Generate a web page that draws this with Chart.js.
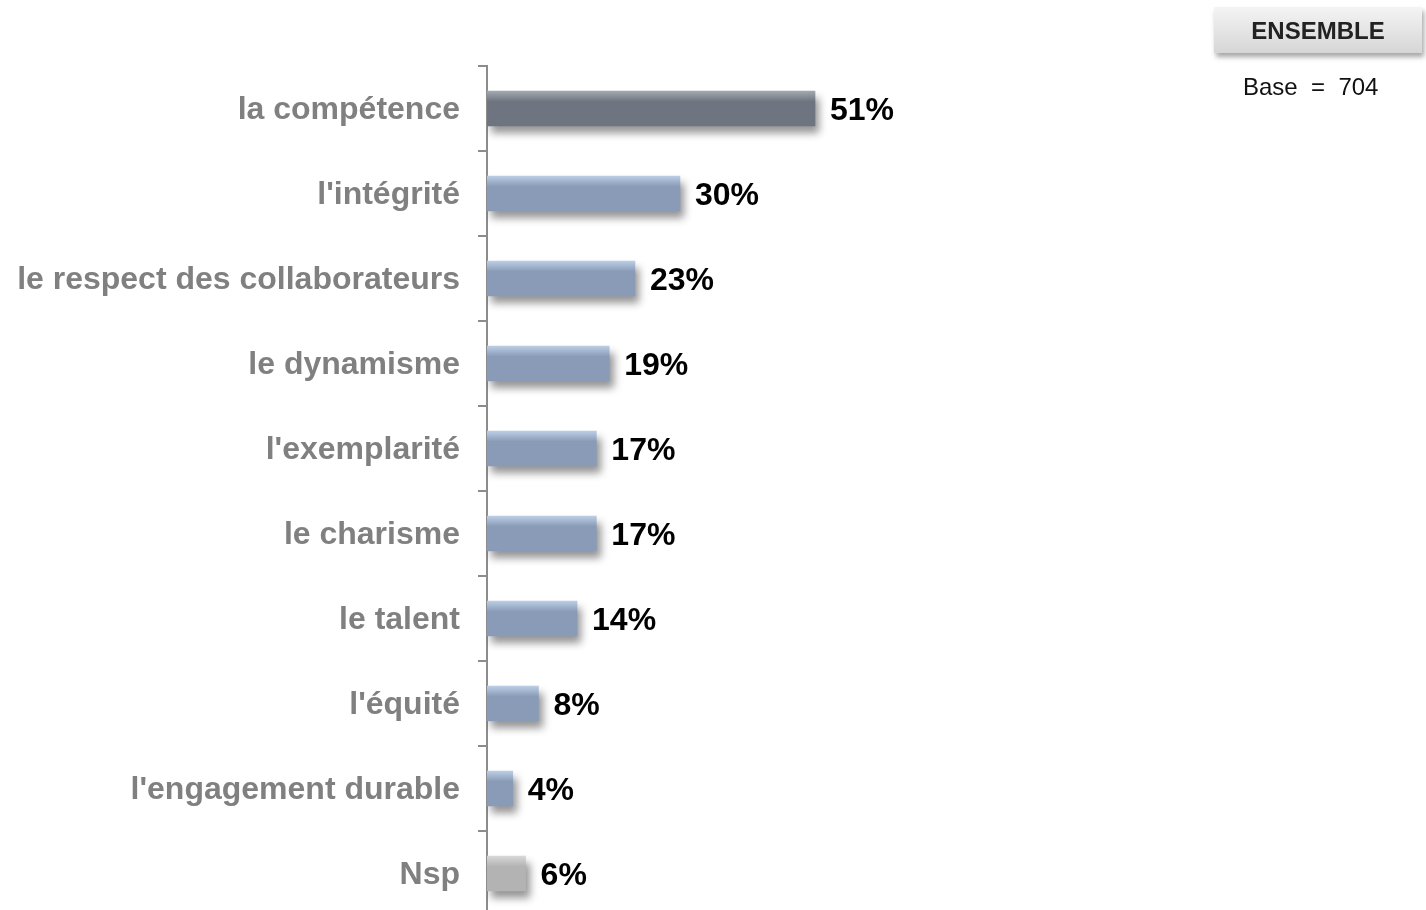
<!DOCTYPE html>
<html lang="fr">
<head>
<meta charset="utf-8">
<title>ENSEMBLE</title>
<script src="https://cdn.jsdelivr.net/npm/chart.js@4.4.0/dist/chart.umd.min.js"></script>
<style>
    html, body { margin: 0; padding: 0; background: #fff; overflow: hidden; }
    body { width: 1426px; height: 910px; position: relative; font-family: "Liberation Sans", Arial, sans-serif; }
    #chart { position: absolute; left: 0; top: 0; }
    .ensemble {
        position: absolute; left: 1214px; top: 7px; width: 208px; height: 46px; z-index: 2;
        background: linear-gradient(#f4f4f4, #d6d6d6);
        box-shadow: 2px 4px 5px rgba(0,0,0,0.35);
        font-weight: bold; font-size: 24px; color: #222;
        text-align: center; line-height: 47px;
    }
    .base { position: absolute; left: 1243px; top: 73px; font-size: 24px; color: #111; white-space: pre; z-index: 2; }
</style>
</head>
<body>
<div class="ensemble">ENSEMBLE</div>
<div class="base">Base  =  704</div>
<canvas id="chart" width="1426" height="916"></canvas>
<script>
// --- données ---
const categories = [
    'la compétence', "l'intégrité", 'le respect des collaborateurs', 'le dynamisme',
    "l'exemplarité", 'le charisme', 'le talent', "l'équité", "l'engagement durable", 'Nsp'
];
const values = [51, 30, 23, 19, 17, 17, 14, 8, 4, 6];

// couleurs : première barre gris foncé, Nsp gris clair, les autres bleu
function barColors(i) {
    if (i === 0) return ['#a3a8b0', '#6f7580'];
    if (i === categories.length - 1) return ['#d8d8d8', '#b3b3b3'];
    return ['#bccde6', '#8a9bb7'];
}

const BAR_H = 35;

// ombre portée sous les barres
const shadowPlugin = {
    id: 'shadow',
    beforeDatasetsDraw(chart) {
        const ctx = chart.ctx;
        ctx.save();
        ctx.shadowColor = 'rgba(0,0,0,0.42)';
        ctx.shadowBlur = 8;
        ctx.shadowOffsetX = 4;
        ctx.shadowOffsetY = 7;
    },
    afterDatasetsDraw(chart) {
        chart.ctx.restore();
    }
};

// étiquettes de valeurs à droite des barres
const valueLabels = {
    id: 'valueLabels',
    afterDatasetsDraw(chart) {
        const ctx = chart.ctx;
        const meta = chart.getDatasetMeta(0);
        ctx.save();
        ctx.font = 'bold 32px "Liberation Sans", Arial, sans-serif';
        ctx.fillStyle = '#000';
        ctx.textAlign = 'left';
        ctx.textBaseline = 'middle';
        meta.data.forEach((bar, i) => {
            ctx.fillText(values[i] + '%', bar.x + 15, bar.y + 3);
        });
        ctx.restore();
    }
};

const ctx = document.getElementById('chart').getContext('2d');
new Chart(ctx, {
    type: 'bar',
    data: {
        labels: categories,
        datasets: [{
            data: values,
            backgroundColor: (c) => {
                const chart = c.chart;
                const cols = barColors(c.dataIndex);
                if (!chart.chartArea || !chart.scales.y) return cols[1];
                const yc = chart.scales.y.getPixelForValue(c.dataIndex);
                const g = chart.ctx.createLinearGradient(0, yc - BAR_H / 2, 0, yc + BAR_H / 2);
                g.addColorStop(0, cols[0]);
                g.addColorStop(0.3, cols[1]);
                g.addColorStop(1, cols[1]);
                return g;
            },
            borderWidth: 0,
            barThickness: BAR_H
        }]
    },
    options: {
        indexAxis: 'y',
        responsive: false,
        animation: false,
        layout: { padding: { top: 66, right: 0, bottom: 0, left: 0 } },
        scales: {
            x: { display: false, min: 0, max: 146 },
            y: {
                afterFit: (scale) => {
                    scale.width = 487;
                    scale.paddingTop = 0;
                    scale.paddingBottom = 0;
                },
                border: { display: true, color: '#8c8c8c', width: 2 },
                grid: { drawOnChartArea: false, color: '#8c8c8c', tickLength: 9, lineWidth: 2 },
                ticks: {
                    color: '#808080',
                    padding: 18,
                    labelOffset: 2,
                    font: { family: '"Liberation Sans", Arial, sans-serif', size: 32, weight: 'bold' }
                }
            }
        },
        plugins: { legend: { display: false }, tooltip: { enabled: false } }
    },
    plugins: [shadowPlugin, valueLabels]
});
</script>
</body>
</html>
